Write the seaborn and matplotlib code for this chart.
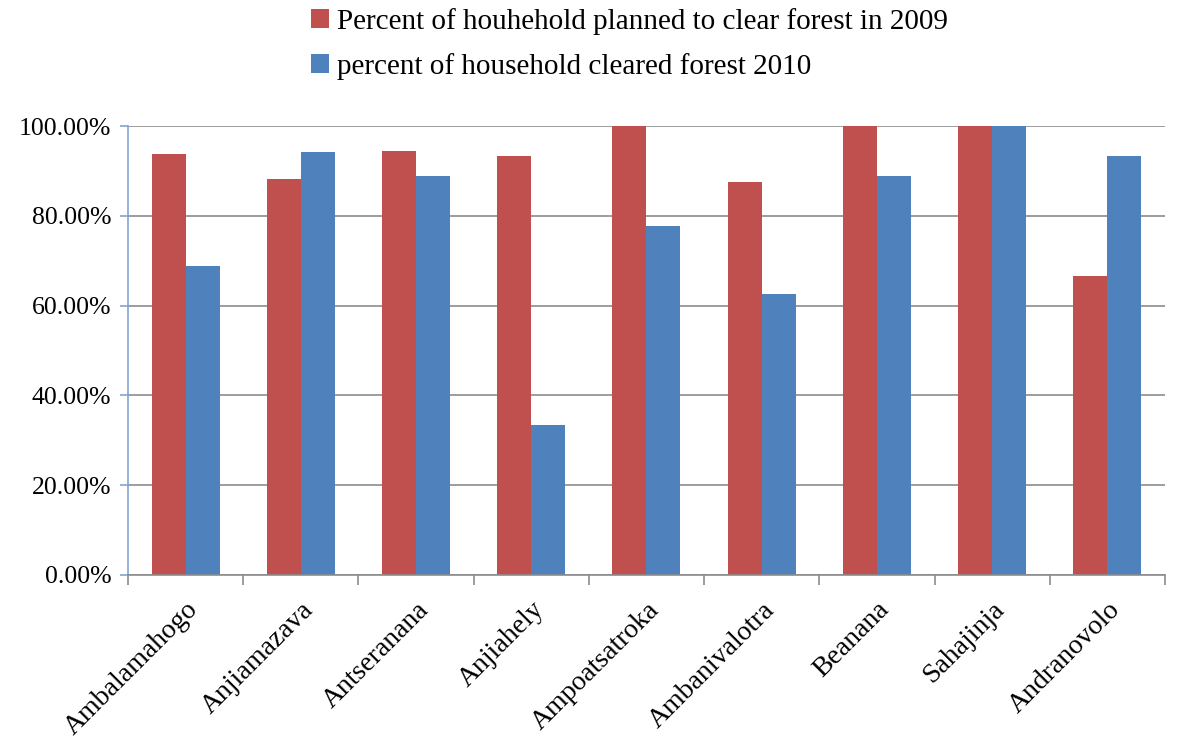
import numpy as np
import pandas as pd
import matplotlib
matplotlib.use("Agg")
import matplotlib.pyplot as plt
import seaborn as sns
from matplotlib.ticker import FuncFormatter, FixedLocator

# ---------------------------------------------------------------------
# DATA
# ---------------------------------------------------------------------
villages = ["Ambalamahogo", "Anjiamazava", "Antseranana", "Anjiahely",
            "Ampoatsatroka", "Ambanivalotra", "Beanana", "Sahajinja", "Andranovolo"]
planned_2009 = [93.75, 88.24, 94.44, 93.33, 100.0, 87.5, 100.0, 100.0, 66.67]
cleared_2010 = [68.75, 94.12, 88.89, 33.33, 77.78, 62.5, 88.89, 100.0, 93.33]
series_names = ["Percent of houhehold planned to clear forest in 2009",
                "percent of household cleared forest 2010"]
y_ticks = [0, 20, 40, 60, 80, 100]

df = pd.DataFrame({
    "village": villages * 2,
    "value": planned_2009 + cleared_2010,
    "series": [series_names[0]] * len(villages) + [series_names[1]] * len(villages),
})

# ---------------------------------------------------------------------
# PLOT
# ---------------------------------------------------------------------
sns.set_style("white")
plt.rcParams["font.family"] = ["Liberation Serif", "DejaVu Serif"]
plt.rcParams["text.color"] = "black"
plt.rcParams["xtick.labelcolor"] = "black"
plt.rcParams["ytick.labelcolor"] = "black"

fig = plt.figure(figsize=(11.86, 7.44), dpi=100)
ax = fig.add_axes([0.1079, 0.2272, 0.8744, 0.6034])

sns.barplot(data=df, x="village", y="value", hue="series",
            palette=["#C0504D", "#4F81BD"], saturation=1, width=0.59,
            dodge=True, ax=ax, legend=True, linewidth=0, edgecolor="none")

ax.set_ylim(0, 100)
ax.set_xlim(-0.5, len(villages) - 0.5)
ax.yaxis.set_major_locator(FixedLocator(y_ticks))
ax.yaxis.set_major_formatter(FuncFormatter(lambda v, p: f"{v:.2f}%"))
ax.grid(axis="y", color="#8C8C8C", linewidth=1.2)
ax.set_axisbelow(True)
ax.set_xlabel("")
ax.set_ylabel("")

for s in ["top", "right"]:
    ax.spines[s].set_visible(False)
ax.spines["left"].set_color("#7FA6D6")
ax.spines["left"].set_linewidth(1.2)
ax.spines["bottom"].set_color("#8C8C8C")
ax.spines["bottom"].set_linewidth(1.2)

ax.tick_params(axis="y", which="major", direction="out", length=6, width=1.2,
               color="#7FA6D6", labelsize=18.5, pad=6, left=True, labelcolor="black")

# category labels at centres, tick marks at boundaries
ax.set_xticks(range(len(villages)))
ax.set_xticklabels(villages, rotation=45, ha="right", rotation_mode="anchor", fontsize=20)
ax.tick_params(axis="x", which="major", length=0, pad=16, labelcolor="black")
ax.set_xticks(np.arange(-0.5, len(villages), 1.0), minor=True)
ax.tick_params(axis="x", which="minor", direction="out", length=7, width=1.2,
               color="#8C8C8C", bottom=True)

handles, labels = ax.get_legend_handles_labels()
ax.get_legend().remove()
leg = fig.legend(handles, labels, loc="upper center", bbox_to_anchor=(0.531, 1.025),
                 ncol=1, frameon=False, fontsize=21, handlelength=0.6, handleheight=0.6,
                 handletextpad=0.3, labelspacing=0.62)
for t in leg.get_texts():
    t.set_color("black")

fig.savefig("out.png", dpi=100)
